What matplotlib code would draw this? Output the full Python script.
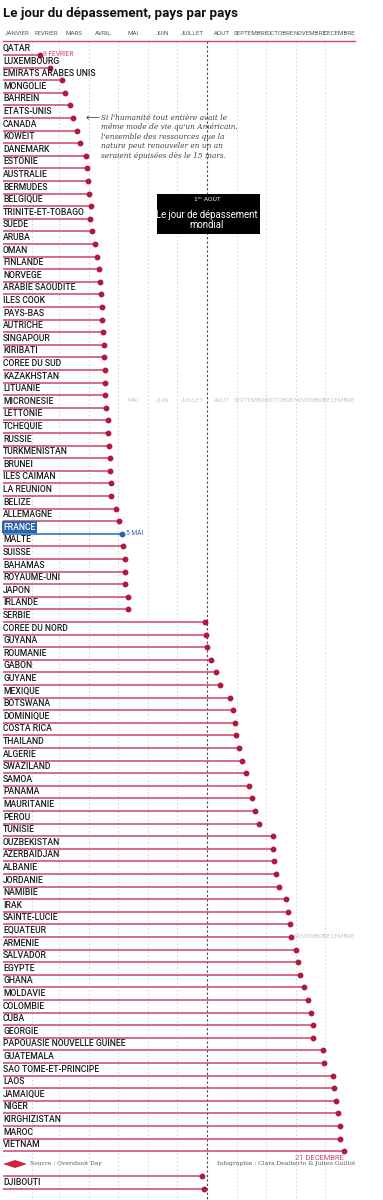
import numpy as np
import matplotlib
matplotlib.use('Agg')
import matplotlib.pyplot as plt

# pays, jour du depassement (jours depuis le 1er janvier)
countries = [
    'QATAR', 'LUXEMBOURG', 'EMIRATS ARABES UNIS', 'MONGOLIE', 'BAHREIN', 'ETATS-UNIS',
    'CANADA', 'KOWEIT', 'DANEMARK', 'ESTONIE', 'AUSTRALIE', 'BERMUDES', 'BELGIQUE',
    'TRINITE-ET-TOBAGO', 'SUEDE', 'ARUBA', 'OMAN', 'FINLANDE', 'NORVEGE',
    'ARABIE SAOUDITE', 'ILES COOK', 'PAYS-BAS', 'AUTRICHE', 'SINGAPOUR', 'KIRIBATI',
    'COREE DU SUD', 'KAZAKHSTAN', 'LITUANIE', 'MICRONESIE', 'LETTONIE', 'TCHEQUIE',
    'RUSSIE', 'TURKMENISTAN', 'BRUNEI', 'ILES CAIMAN', 'LA REUNION', 'BELIZE',
    'ALLEMAGNE', 'FRANCE', 'MALTE', 'SUISSE', 'BAHAMAS', 'ROYAUME-UNI', 'JAPON',
    'IRLANDE', 'SERBIE', 'COREE DU NORD', 'GUYANA', 'ROUMANIE', 'GABON', 'GUYANE',
    'MEXIQUE', 'BOTSWANA', 'DOMINIQUE', 'COSTA RICA', 'THAILAND', 'ALGERIE',
    'SWAZILAND', 'SAMOA', 'PANAMA', 'MAURITANIE', 'PEROU', 'TUNISIE', 'OUZBEKISTAN',
    'AZERBAIDJAN', 'ALBANIE', 'JORDANIE', 'NAMIBIE', 'IRAK', 'SAINTE-LUCIE',
    'EQUATEUR', 'ARMENIE', 'SALVADOR', 'EGYPTE', 'GHANA', 'MOLDAVIE', 'COLOMBIE',
    'CUBA', 'GEORGIE', 'PAPOUASIE NOUVELLE GUINEE', 'GUATEMALA', 'SAO TOME-ET-PRINCIPE',
    'LAOS', 'JAMAIQUE', 'NIGER', 'KIRGHIZISTAN', 'MAROC', 'VIETNAM',
]
days = [
    39, 49, 62, 65, 70, 73,
    77, 80, 87, 88, 89, 90, 92,
    91, 93, 96, 98, 100, 101,
    102, 103, 103, 104, 105, 105,
    106, 106, 106, 107, 109, 109,
    110, 111, 111, 112, 112, 118,
    121, 124, 125, 127, 127, 127, 130,
    130, 210, 211, 212, 216, 221, 226,
    236, 239, 241, 242, 245, 248,
    253, 256, 259, 262, 266, 280, 281,
    282, 284, 287, 294, 296, 298,
    299, 304, 306, 308, 313, 317, 320,
    322, 322, 332, 333, 343,
    344, 346, 348, 350, 350, 354,
]
# rangees en bas, apres le pied de page
extra_countries = ['', 'DJIBOUTI']
extra_days = [207, 209]

month_names = ['JANVIER', 'FEVRIER', 'MARS', 'AVRIL', 'MAI', 'JUIN', 'JUILLET',
               'AOUT', 'SEPTEMBRE', 'OCTOBRE', 'NOVEMBRE', 'DECEMBRE']
month_starts = [0, 31, 59, 90, 120, 151, 181, 212, 243, 273, 304, 334, 365]

pink = '#cf4468'
dark_pink = '#b0183f'
blue = '#2a66b0'
cond = dict(family=['Roboto', 'DejaVu Sans'])

W, H = 383, 1200
row_px = 12.6
y0_px = 55
top_px = 41
px_per_day = 352 / 365

fig = plt.figure(figsize=(W / 100, H / 100), dpi=100)
ax = fig.add_axes([2.5 / W, 0, 365 * px_per_day / W, (H - top_px) / H])
ytop = (top_px - y0_px) / row_px
ybot = (H - y0_px) / row_px
ax.set_xlim(0, 365)
ax.set_ylim(ybot, ytop)

# grille des mois
ax.vlines([m for m in month_starts[1:] if m != 212], ytop, ybot,
          colors='#d0d0d0', linestyles=(0, (1.5, 2.5)), lw=0.7)
ax.vlines(212, ytop, ybot, colors='#444444', linestyles=(0, (2, 2)), lw=0.8)

# en-tete des mois
mids = [(month_starts[i] + month_starts[i + 1]) / 2 for i in range(12)]
ax.xaxis.tick_top()
ax.set_xticks(mids)
ax.set_xticklabels(month_names, fontsize=4.5, color='#555555', **cond)
ax.tick_params(axis='x', length=0, pad=3.5)
ax.set_yticks([])
for s in ['left', 'right', 'bottom']:
    ax.spines[s].set_visible(False)
ax.spines['top'].set_color(pink)
ax.spines['top'].set_linewidth(1.0)

# en-tetes fantomes (raccords de l'image)
for i in range(4, 12):
    ax.text(mids[i], 27.4, month_names[i], fontsize=4.5, color='#c8c8c8',
            ha='center', va='center', **cond)
for i in range(10, 12):
    ax.text(mids[i], 70, month_names[i], fontsize=4.5, color='#c8c8c8',
            ha='center', va='center', **cond)

def draw_row(y, name, d, col, dcol):
    ax.hlines(y, 0, d, colors=col, lw=1.1, zorder=3)
    ax.plot(d, y, 'o', ms=3.2, color=dcol, zorder=4)
    if name:
        ax.text(0.6, y - 0.52, name, fontsize=6.2, color='#1a1a1a', va='center',
                ha='left', weight='medium', zorder=5, **cond)

for i, (c, d) in enumerate(zip(countries, days)):
    if c == 'FRANCE':
        ax.hlines(i, 0, d, colors=blue, lw=1.1, zorder=3)
        ax.plot(d, i, 'o', ms=3.2, color=blue, zorder=4)
        ax.text(0.6, i - 0.52, c, fontsize=6.2, color='white', va='center', ha='left',
                weight='medium', zorder=5,
                bbox=dict(boxstyle='square,pad=0.15', fc=blue, ec='none'), **cond)
        ax.text(d + 4, i, '5 MAI', fontsize=4.8, color=blue, va='center', **cond)
    else:
        draw_row(i, c, d, pink, dark_pink)

ax.text(days[0] + 3, 0, '9 FEVRIER', fontsize=4.8, color=pink, va='center', **cond)
n = len(countries)
ax.text(days[-1], n - 1 + 0.55, '21 DECEMBRE', fontsize=5.4, color=pink,
        va='center', ha='right', **cond)

for j, (c, d) in enumerate(zip(extra_countries, extra_days)):
    draw_row(n + 1 + j, c, d, pink, dark_pink)

# annotation Etats-Unis
note = ("Si l'humanité tout entière avait le\n"
        "même mode de vie qu'un Américain,\n"
        "l'ensemble des ressources que la\n"
        "nature peut renouveler en un an\n"
        "seraient épuisées dès le 15 mars.")
ax.text(86, 5.0, '⟵', fontsize=7, color='#444444', va='center', ha='left',
        family='DejaVu Sans')
ax.text(102, 4.65, note, fontsize=5.3, style='italic', color='#444444',
        family='DejaVu Serif', va='top', ha='left', linespacing=1.25)

# encadre jour mondial
ax.add_patch(plt.Rectangle((160, 11.0), 107, 3.2, fc='black', ec='none', zorder=6))
ax.text(212, 11.45, '1ᵉʳ AOÛT', fontsize=4.3, color='white', ha='center',
        va='center', family='DejaVu Sans', zorder=7)
ax.text(212, 12.3, 'Le jour de dépassement\nmondial', fontsize=6.9, color='white',
        ha='center', va='top', linespacing=1.05, zorder=7, **cond)

# titre et pied de page
fig.text(3 / W, 1 - 13 / H, 'Le jour du dépassement, pays par pays', fontsize=9.6,
         weight='bold', color='#111111', va='center', ha='left', **cond)
fig.text(30 / W, 1 - 1164 / H, 'Source : Overshoot Day', fontsize=4.3,
         family='DejaVu Serif', color='#555555', va='center')
fig.text(355 / W, 1 - 1164 / H, 'Infographie : Clara Dealberto & Julien Guillot',
         fontsize=4.3, family='DejaVu Serif', color='#555555', va='center', ha='right')
fig.patches.append(plt.Polygon([[3 / W, 1 - 1164 / H], [15 / W, 1 - 1160 / H],
                                [27 / W, 1 - 1164 / H], [15 / W, 1 - 1168 / H]],
                               closed=True, fc='#d4203f', ec='none',
                               transform=fig.transFigure, figure=fig))

fig.savefig('out.png', dpi=100, facecolor='white')
